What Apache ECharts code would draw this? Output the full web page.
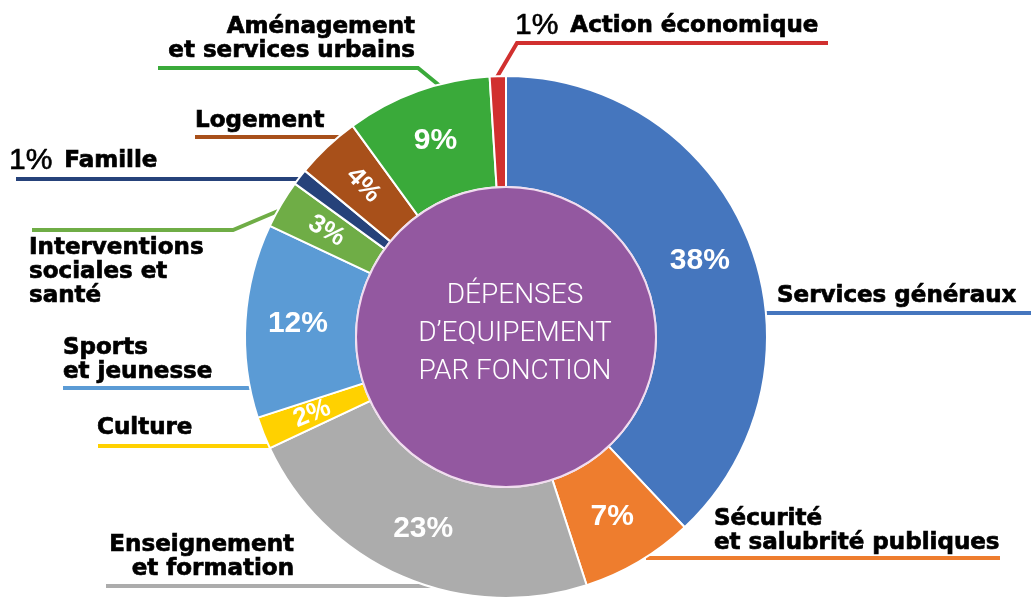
<!DOCTYPE html>
<html>
<head>
<meta charset="utf-8">
<script src="https://cdn.jsdelivr.net/npm/echarts@6/dist/echarts.min.js"></script>
<style>
  html, body { margin: 0; padding: 0; background: #fff; }
  #chart { width: 1031px; height: 599px; }
</style>
</head>
<body>
<div id="chart"></div>
<script>
// données (en %)
const categories = ['Services généraux', 'Sécurité et salubrité publiques', 'Enseignement et formation', 'Culture',
  'Sports et jeunesse', 'Interventions sociales et santé', 'Famille', 'Logement',
  'Aménagement et services urbains', 'Action économique'];
const labelTexts = ['Services généraux', 'Sécurité\net salubrité publiques', 'Enseignement\net formation', 'Culture',
  'Sports\net jeunesse', 'Interventions\nsociales et\nsanté', 'Famille', 'Logement',
  'Aménagement\net services urbains', 'Action économique'];
const shares = [38, 7, 23, 2, 12, 3, 1, 4, 9, 1];
const colors = ['#4576be', '#ee7d2e', '#acacac', '#ffd100', '#5b9bd5', '#6fad46', '#26427a', '#a8501a', '#3aaa3a', '#d1302f'];
const centerTitle = ['DÉPENSES', 'D’EQUIPEMENT', 'PAR FONCTION'];

// placement des étiquettes extérieures (x, y, alignement, tracé du trait)
const labelPlaces = [
  { x: 777, y: 296, align: 'left', line: [[766, 313], [1031, 313]] },
  { x: 714, y: 531, align: 'left', line: [[646, 558], [1000, 558]] },
  { x: 294, y: 557, align: 'right', line: [[470, 586], [106, 586]] },
  { x: 97, y: 428, align: 'left', line: [[270, 446], [98, 446]] },
  { x: 63, y: 360, align: 'left', line: [[250, 388], [63, 388]] },
  { x: 29, y: 272, align: 'left', line: [[278, 211], [233, 230], [32, 230]] },
  { x: 9, y: 161, align: 'left', line: [[301, 179], [16, 179]] },
  { x: 195, y: 121, align: 'left', line: [[349, 137], [195, 137]] },
  { x: 415, y: 39, align: 'right', line: [[440, 86], [418, 68], [158, 68]] },
  { x: 515, y: 26, align: 'left', line: [[497, 77], [517, 43], [828, 43]] }
];

const chartDom = document.getElementById('chart');
const myChart = echarts.init(chartDom);

const center = [506, 337];
const labelFont = {
  fontFamily: 'DejaVu Sans', fontWeight: 'bold', fontSize: 23, color: '#000', lineHeight: 24,
  textBorderColor: '#000', textBorderWidth: 0.7
};

const option = {
  animation: false,
  series: [
    {
      // anneau + étiquettes extérieures
      type: 'pie',
      center: center,
      radius: [150, 261],
      startAngle: 90,
      clockwise: true,
      avoidLabelOverlap: false,
      silent: true,
      itemStyle: { borderColor: '#fff', borderWidth: 2 },
      data: categories.map((name, i) => ({
        name: name,
        value: shares[i],
        itemStyle: { color: colors[i] }
      })),
      label: {
        show: true,
        position: 'outside',
        formatter: (p) => {
          const key = labelPlaces[p.dataIndex].align === 'right' ? 'nr' : 'nl';
          const lines = labelTexts[p.dataIndex].split('\n').map(t => `{${key}|${t}}`).join('\n');
          if (p.value <= 1) {
            return `{p|${p.value}%}` + lines;
          }
          return lines;
        },
        rich: {
          nl: Object.assign({ align: 'left' }, labelFont),
          nr: Object.assign({ align: 'right' }, labelFont),
          p: {
            fontFamily: 'Liberation Sans', fontSize: 30, color: '#000', lineHeight: 30,
            textBorderColor: '#000', textBorderWidth: 0.6, padding: [0, 12, 0, 0]
          }
        }
      },
      labelLine: {
        show: true,
        lineStyle: { width: 4 }
      },
      labelLayout: (params) => {
        const pl = labelPlaces[params.dataIndex];
        return {
          x: pl.x,
          y: pl.y,
          align: pl.align,
          verticalAlign: 'middle',
          labelLinePoints: pl.line
        };
      }
    },
    {
      // pourcentages à l'intérieur de l'anneau
      type: 'pie',
      center: center,
      radius: [150, 261],
      startAngle: 90,
      clockwise: true,
      silent: true,
      z: 3,
      itemStyle: { color: 'transparent', borderWidth: 0 },
      data: categories.map((name, i) => ({
        name: name,
        value: shares[i],
        label: {
          show: shares[i] > 1,
          rotate: shares[i] < 5 ? 'radial' : 0,
          fontSize: shares[i] < 5 ? 26 : 30
        }
      })),
      label: {
        position: 'inside',
        formatter: '{c}%',
        color: '#fff',
        fontFamily: 'Liberation Sans',
        fontWeight: 'bold'
      },
      labelLine: { show: false }
    },
    {
      // disque central
      type: 'pie',
      center: center,
      radius: [0, 150],
      silent: true,
      z: 4,
      data: [{ value: 1, name: centerTitle.join(' ') }],
      itemStyle: { color: '#9358a0', borderColor: '#f1dcef', borderWidth: 2 },
      label: {
        show: true,
        position: 'center',
        formatter: centerTitle.join('\n'),
        color: '#fff',
        fontFamily: 'Roboto',
        fontWeight: 300,
        fontSize: 28,
        lineHeight: 38,
        offset: [9, -3]
      },
      labelLine: { show: false }
    }
  ]
};

myChart.setOption(option);
window.addEventListener('resize', () => myChart.resize());
</script>
</body>
</html>
